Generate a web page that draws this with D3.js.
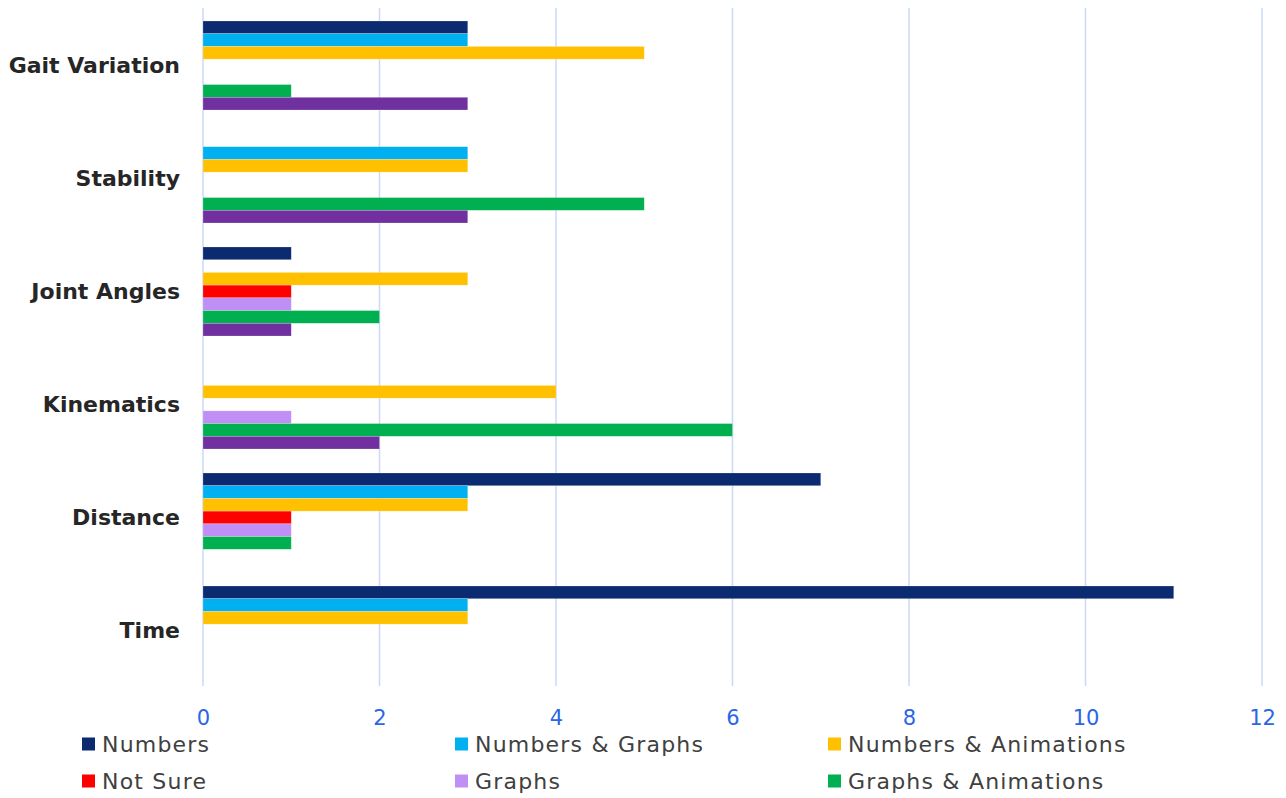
<!DOCTYPE html>
<html><head><meta charset="utf-8">
<script src="https://cdn.jsdelivr.net/npm/d3@7"></script>
<style>body{margin:0;background:#fff}svg{display:block}</style>
</head><body>
<svg id="c" width="1286" height="798"></svg>
<script>
const categories = ["Gait Variation","Stability","Joint Angles","Kinematics","Distance","Time"];
const seriesNames = ["Numbers","Numbers & Graphs","Numbers & Animations","Not Sure","Graphs","Graphs & Animations","Animations"];
const numbers            = [3,0,1,0,7,11];
const numbersGraphs      = [3,3,0,0,3,3];
const numbersAnimations  = [5,3,3,4,3,3];
const notSure            = [0,0,1,0,1,0];
const graphs             = [0,0,1,1,1,0];
const graphsAnimations   = [1,5,2,6,1,0];
const animations         = [3,3,1,2,0,0];
const xTicks = [0,2,4,6,8,10,12];
const legendNames = ["Numbers","Numbers & Graphs","Numbers & Animations","Not Sure","Graphs","Graphs & Animations"];

const seriesValues = [numbers,numbersGraphs,numbersAnimations,notSure,graphs,graphsAnimations,animations];
const colors = ["#0b2a6f","#00b0f0","#ffc000","#ff0000","#bf8ff5","#00b050","#7030a0"];

const svg = d3.select("#c");
const mLeft = 203, mRight = 1262, mTop = 8, mBottom = 686;
const x = d3.scaleLinear().domain([0,12]).range([mLeft,mRight]);
const y = d3.scaleBand().domain(categories).range([mTop+1,mBottom+1]).paddingInner(0.2124).paddingOuter(0.1062);
const ys = d3.scaleBand().domain(seriesNames).range([0,y.bandwidth()]);

// grid
svg.append("g").selectAll("line").data(xTicks).join("line")
  .attr("x1",d=>x(d)).attr("x2",d=>x(d)).attr("y1",mTop).attr("y2",mBottom)
  .attr("stroke","#cbd8f6").attr("stroke-width",1.5);

// bars
const rows = [];
seriesNames.forEach((s,si)=>categories.forEach((c,ci)=>{
  if (seriesValues[si][ci] > 0) rows.push({s,c,v:seriesValues[si][ci],color:colors[si]});
}));
svg.append("g").selectAll("rect").data(rows).join("rect")
  .attr("x",x(0)).attr("y",d=>y(d.c)+ys(d.s))
  .attr("width",d=>x(d.v)-x(0)).attr("height",ys.bandwidth())
  .attr("fill",d=>d.color).attr("stroke","#ffffff").attr("stroke-opacity",0.35).attr("stroke-width",0.6);

// x axis
const xa = svg.append("g").attr("transform",`translate(0,${mBottom})`)
  .call(d3.axisBottom(x).tickValues(xTicks).tickSize(0).tickPadding(24));
xa.select(".domain").remove();
xa.selectAll("text").attr("fill","#2a66e6").attr("font-family","'DejaVu Sans', sans-serif").attr("font-size",21);

// y axis labels
const ya = svg.append("g").attr("transform",`translate(${mLeft},0)`)
  .call(d3.axisLeft(y).tickSize(0).tickPadding(23));
ya.select(".domain").remove();
ya.selectAll("text").attr("fill","#262626").attr("font-family","'DejaVu Sans', sans-serif")
  .attr("font-weight","bold").attr("font-size",22);

// legend
const colX = [82,455,828], rowY = [744,781];
const lg = svg.append("g").selectAll("g").data(legendNames).join("g")
  .attr("transform",(d,i)=>`translate(${colX[i%3]},${rowY[Math.floor(i/3)]})`);
lg.append("rect").attr("x",0).attr("y",-6.5).attr("width",13).attr("height",13)
  .attr("fill",d=>colors[seriesNames.indexOf(d)]);
lg.append("text").attr("x",20).attr("y",0).attr("dy","0.36em").text(d=>d)
  .attr("fill","#404040").attr("font-family","'DejaVu Sans', sans-serif").attr("font-size",22)
  .attr("letter-spacing",1.2);
</script>
</body></html>
